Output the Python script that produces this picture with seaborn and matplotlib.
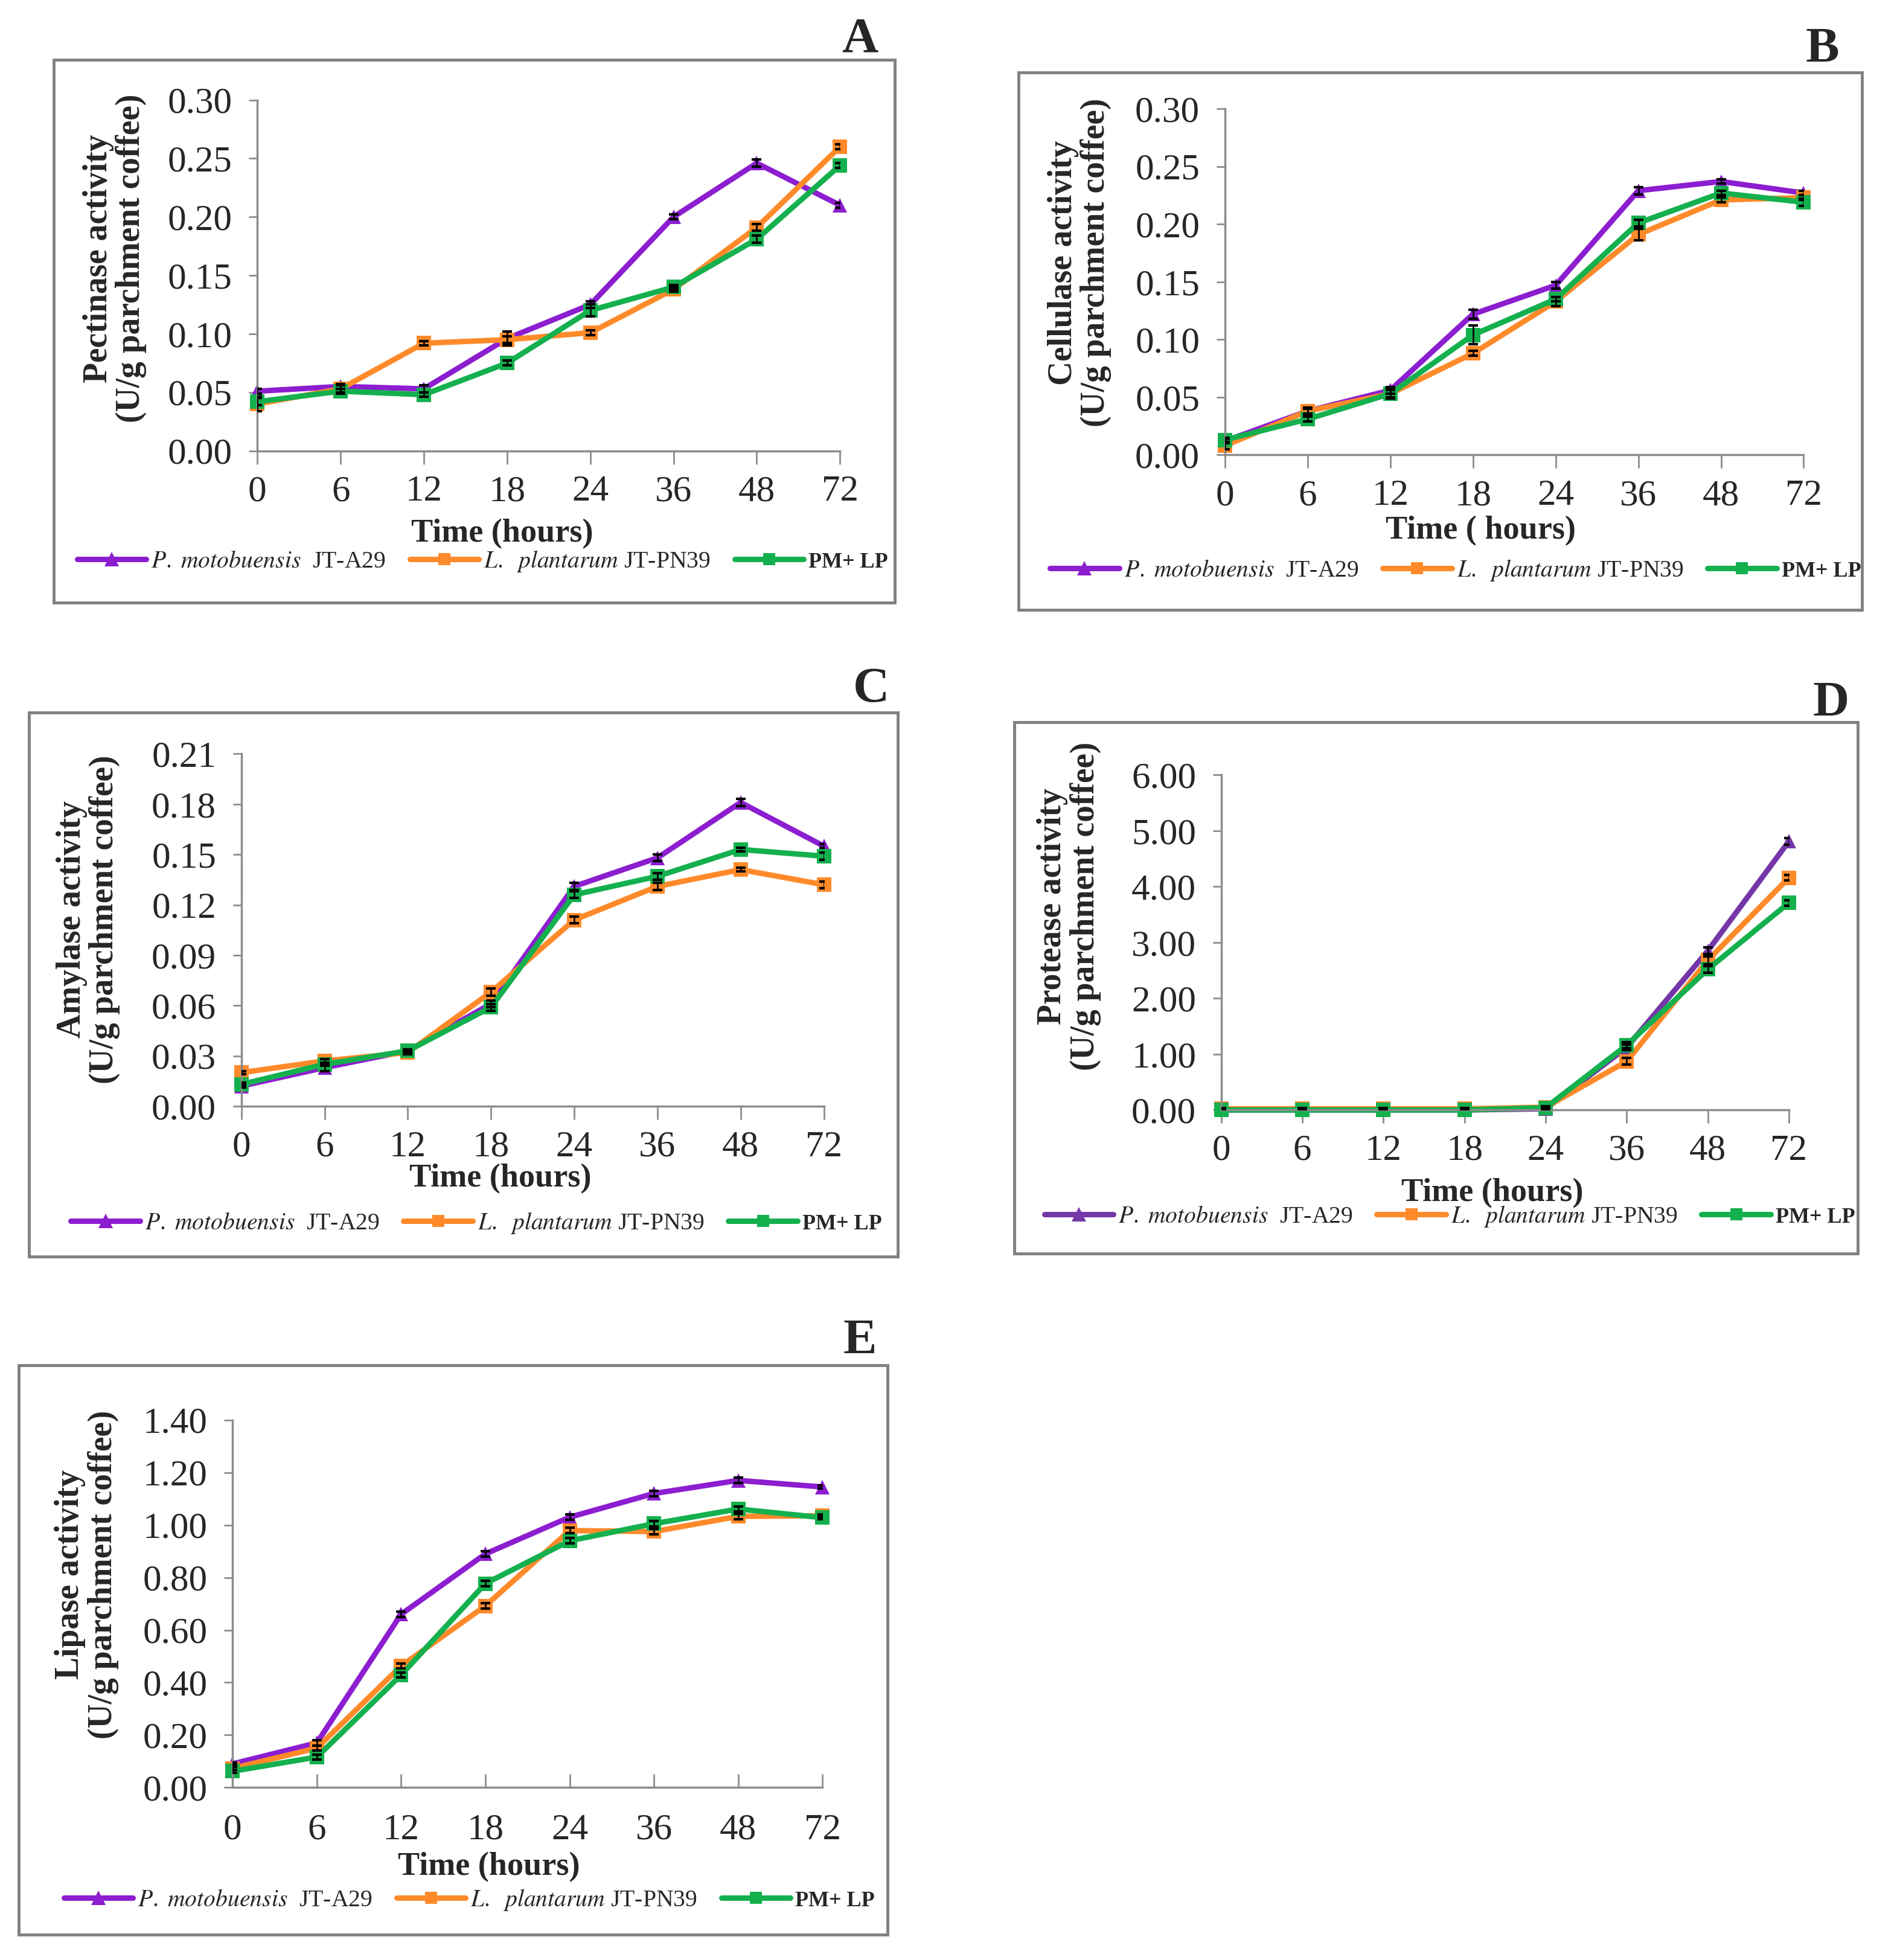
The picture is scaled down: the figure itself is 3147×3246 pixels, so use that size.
#%% Enzyme activity during coffee fermentation (5 panels)
import numpy as np
import pandas as pd
import matplotlib
matplotlib.use('Agg')
import matplotlib.pyplot as plt
import seaborn as sns
from matplotlib.lines import Line2D
from matplotlib.patches import Rectangle

sns.set_style('ticks')
plt.rcParams['font.family'] = ['Liberation Serif', 'DejaVu Serif']
plt.rcParams['mathtext.fontset'] = 'stix'

#%% Data
time_labels = ['0', '6', '12', '18', '24', '36', '48', '72']

# A - pectinase
pect_pm = [0.051, 0.055, 0.053, 0.096, 0.125, 0.200, 0.246, 0.210]
pect_lp = [0.040, 0.053, 0.092, 0.095, 0.101, 0.138, 0.191, 0.260]
pect_mix = [0.042, 0.051, 0.048, 0.075, 0.120, 0.140, 0.181, 0.244]
pect_pm_err = [0.002, 0.002, 0.003, 0.006, 0.003, 0.002, 0.003, 0.002]
pect_lp_err = [0.006, 0.003, 0.002, 0.003, 0.002, 0.002, 0.003, 0.002]
pect_mix_err = [0.003, 0.002, 0.002, 0.002, 0.005, 0.002, 0.003, 0.002]

# B - cellulase
cell_pm = [0.012, 0.038, 0.056, 0.122, 0.147, 0.229, 0.237, 0.227]
cell_lp = [0.008, 0.038, 0.053, 0.088, 0.133, 0.191, 0.221, 0.223]
cell_mix = [0.013, 0.031, 0.053, 0.104, 0.135, 0.201, 0.227, 0.219]
cell_pm_err = [0.002, 0.003, 0.003, 0.004, 0.003, 0.003, 0.002, 0.002]
cell_lp_err = [0.003, 0.002, 0.003, 0.002, 0.004, 0.005, 0.002, 0.002]
cell_mix_err = [0.002, 0.002, 0.004, 0.008, 0.002, 0.003, 0.002, 0.003]

# C - amylase
amyl_pm = [0.012, 0.023, 0.033, 0.061, 0.131, 0.148, 0.181, 0.155]
amyl_lp = [0.020, 0.027, 0.032, 0.068, 0.111, 0.131, 0.141, 0.132]
amyl_mix = [0.013, 0.025, 0.033, 0.059, 0.126, 0.137, 0.153, 0.149]
amyl_pm_err = [0.001, 0.002, 0.001, 0.002, 0.002, 0.002, 0.002, 0.001]
amyl_lp_err = [0.001, 0.001, 0.001, 0.002, 0.002, 0.002, 0.001, 0.002]
amyl_mix_err = [0.001, 0.001, 0.001, 0.002, 0.002, 0.002, 0.001, 0.002]

# D - protease
prot_pm = [0.00, 0.00, 0.00, 0.00, 0.02, 1.12, 2.85, 4.81]
prot_lp = [0.02, 0.02, 0.02, 0.02, 0.05, 0.87, 2.68, 4.16]
prot_mix = [0.00, 0.00, 0.00, 0.00, 0.04, 1.16, 2.52, 3.71]
prot_pm_err = [0.02, 0.02, 0.02, 0.02, 0.03, 0.05, 0.06, 0.06]
prot_lp_err = [0.02, 0.02, 0.02, 0.02, 0.02, 0.06, 0.07, 0.05]
prot_mix_err = [0.02, 0.02, 0.02, 0.02, 0.02, 0.05, 0.06, 0.05]

# E - lipase
lipa_pm = [0.09, 0.17, 0.66, 0.89, 1.03, 1.12, 1.17, 1.145]
lipa_lp = [0.073, 0.150, 0.463, 0.692, 0.979, 0.975, 1.033, 1.035]
lipa_mix = [0.062, 0.116, 0.429, 0.777, 0.940, 1.005, 1.061, 1.028]
lipa_pm_err = [0.005, 0.01, 0.01, 0.01, 0.01, 0.01, 0.01, 0.005]
lipa_lp_err = [0.005, 0.01, 0.01, 0.01, 0.01, 0.01, 0.01, 0.005]
lipa_mix_err = [0.005, 0.01, 0.01, 0.01, 0.01, 0.01, 0.01, 0.005]

#%% Styles
purple = '#8C1ED0'
purple_d = '#7536A8'
orange = '#FF8A2A'
green = '#14B04E'
grey = '#8c8c8c'

fig = plt.figure(figsize=(31.47, 32.46), dpi=100)
fig.patch.set_facecolor('white')


def draw_panel(rect, box, letter, letter_xy, ylabel, xlabel, data, errs,
               ymax, ystep, xlab_xy, ylab_xy, leg_xy, col_pm=purple, xdir='out'):
    ax = fig.add_axes(rect)
    pos = np.arange(len(time_labels))
    df = pd.DataFrame({
        'pos': np.tile(pos, 3),
        'value': data[0] + data[1] + data[2],
        'strain': ['PM'] * 8 + ['LP'] * 8 + ['MIX'] * 8,
    })
    pal = {'PM': col_pm, 'LP': orange, 'MIX': green}
    sns.lineplot(data=df, x='pos', y='value', hue='strain', style='strain',
                 markers={'PM': '^', 'LP': 's', 'MIX': 's'}, dashes=False,
                 palette=pal, linewidth=6.5, markersize=17, markeredgewidth=0,
                 estimator=None, legend=False, ax=ax, clip_on=False)
    for vals, err in zip(data, errs):
        ax.errorbar(pos, vals, yerr=err, fmt='none', ecolor='black',
                    elinewidth=2, capsize=6, capthick=3, zorder=4)

    ax.set_xlim(0, 7)
    ax.set_ylim(0, ymax)
    ax.set_xticks(pos)
    ax.set_xticklabels(time_labels)
    yt = np.arange(0, ymax + ystep / 2, ystep)
    ax.set_yticks(yt)
    ax.set_yticklabels(['%.2f' % v for v in yt])
    ax.tick_params(axis='y', direction='out', length=10, width=2, color=grey,
                   pad=20, labelsize=44)
    ax.tick_params(axis='x', direction=xdir, length=16, width=2, color=grey,
                   pad=13 if xdir == 'out' else 31, labelsize=44)
    for s in ['top', 'right']:
        ax.spines[s].set_visible(False)
    for s in ['left', 'bottom']:
        ax.spines[s].set_color(grey)
        ax.spines[s].set_linewidth(2.5)

    ax.set_xlabel(xlabel, fontsize=39, fontweight='bold')
    ax.xaxis.set_label_coords(*xlab_xy)
    ax.set_ylabel(ylabel, fontsize=40, fontweight='bold', linespacing=1.05)
    ax.yaxis.set_label_coords(*ylab_xy)

    handles = [
        Line2D([], [], color=col_pm, lw=6.5, marker='^', ms=17, mew=0),
        Line2D([], [], color=orange, lw=6.5, marker='s', ms=15, mew=0),
        Line2D([], [], color=green, lw=6.5, marker='s', ms=15, mew=0),
    ]
    labels = [r'$\mathit{P.\ motobuensis}$  JT-A29',
              r'$\mathit{L.\ \ plantarum}$ JT-PN39',
              'PM+ LP']
    leg = ax.legend(handles, labels, loc='center', bbox_to_anchor=leg_xy,
                    bbox_transform=fig.transFigure, ncol=3, frameon=False,
                    fontsize=28.5, handlelength=2.9, handletextpad=0.2,
                    columnspacing=1.0)
    leg.get_texts()[2].set_fontsize(26)
    leg.get_texts()[2].set_fontweight('bold')

    fig.add_artist(Rectangle((box[0], box[1]), box[2], box[3],
                             transform=fig.transFigure, fill=False,
                             edgecolor='#808080', lw=3.5))
    fig.text(letter_xy[0], letter_xy[1], letter, fontsize=60,
             fontweight='bold', ha='center', va='center')
    return ax


draw_panel([0.1355, 0.770, 0.3066, 0.179], [0.0283, 0.6926, 0.4427, 0.2768],
           'A', (0.4526, 0.9796), 'Pectinase activity\n(U/g parchment coffee)',
           'Time (hours)', [pect_pm, pect_lp, pect_mix],
           [pect_pm_err, pect_lp_err, pect_mix_err], 0.30, 0.05,
           (0.42, -0.193), (-0.19, 0.548), (0.254, 0.7136))

draw_panel([0.6447, 0.7679, 0.3046, 0.1766], [0.536, 0.6888, 0.444, 0.2742],
           'B', (0.959, 0.9745), 'Cellulase activity\n(U/g parchment coffee)',
           'Time ( hours)', [cell_pm, cell_lp, cell_mix],
           [cell_pm_err, cell_lp_err, cell_mix_err], 0.30, 0.05,
           (0.442, -0.176), (-0.196, 0.555), (0.766, 0.709))

draw_panel([0.127, 0.4356, 0.3066, 0.1798], [0.0151, 0.359, 0.4573, 0.2775],
           'C', (0.4586, 0.648), 'Amylase activity\n(U/g parchment coffee)',
           'Time (hours)', [amyl_pm, amyl_lp, amyl_mix],
           [amyl_pm_err, amyl_lp_err, amyl_mix_err], 0.21, 0.03,
           (0.445, -0.163), (-0.208, 0.53), (0.2507, 0.376))

draw_panel([0.6428, 0.4337, 0.2987, 0.1709], [0.534, 0.3603, 0.4436, 0.2711],
           'D', (0.9638, 0.641), 'Protease activity\n(U/g parchment coffee)',
           'Time (hours)', [prot_pm, prot_lp, prot_mix],
           [prot_pm_err, prot_lp_err, prot_mix_err], 6.0, 1.0,
           (0.478, -0.203), (-0.212, 0.608), (0.763, 0.3795), col_pm=purple_d)

draw_panel([0.1224, 0.088, 0.3105, 0.1875], [0.0099, 0.0128, 0.4571, 0.2908],
           'E', (0.4526, 0.3157), 'Lipase activity\n(U/g parchment coffee)',
           'Time (hours)', [lipa_pm, lipa_lp, lipa_mix],
           [lipa_pm_err, lipa_lp_err, lipa_mix_err], 1.40, 0.20,
           (0.434, -0.175), (-0.193, 0.58), (0.247, 0.0306), xdir='in')

fig.savefig('out.png', dpi=100, facecolor='white')
